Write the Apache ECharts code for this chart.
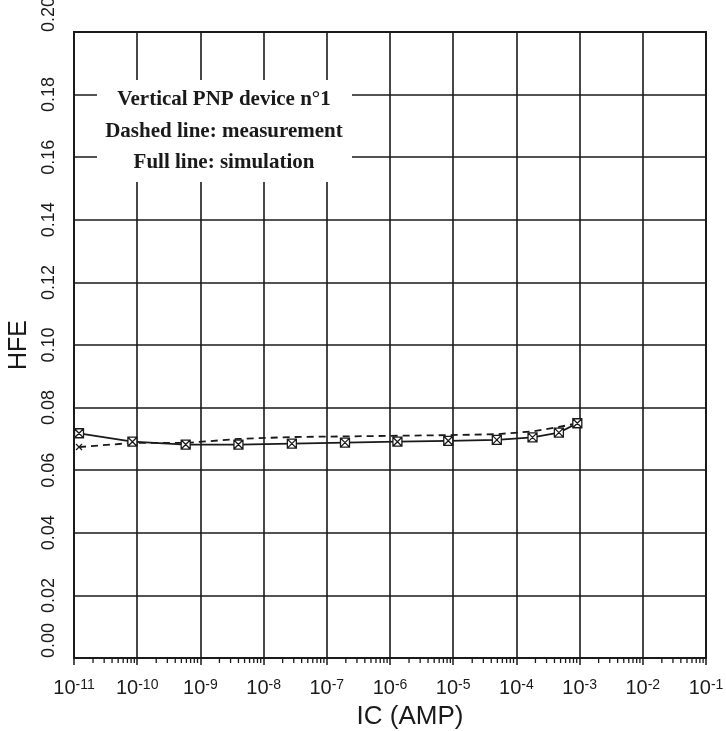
<!DOCTYPE html>
<html>
<head>
<meta charset="utf-8">
<script src="https://cdn.jsdelivr.net/npm/echarts@6/dist/echarts.min.js"></script>
<style>
  html, body { margin: 0; padding: 0; background: #fff; }
  #chart { width: 726px; height: 731px; }
</style>
</head>
<body>
<div id="chart"></div>
<script>
// Collector current (A) at each bias point
const icValues = [1.2e-11, 8.4e-11, 5.85e-10, 4.0e-9, 2.8e-8, 1.94e-7, 1.31e-6, 8.35e-6, 4.9e-5, 1.8e-4, 4.7e-4, 9.2e-4];
// Current gain from simulation (full line)
const hfeSimulation = [0.0718, 0.0691, 0.0682, 0.0682, 0.0685, 0.0688, 0.0691, 0.0694, 0.0697, 0.0705, 0.0720, 0.0750];
// Current gain from measurement (dashed line)
const hfeMeasurement = [0.0674, 0.0687, 0.0687, 0.0700, 0.0706, 0.0708, 0.0710, 0.0712, 0.0715, 0.0724, 0.0738, 0.0750];
// Decades of the log current axis (exponents)
const decadeExponents = [-11, -10, -9, -8, -7, -6, -5, -4, -3, -2, -1];
// Mantissas of the minor log ticks inside each decade
const minorMantissas = [2, 3, 4, 5, 6, 7, 8, 9];
// Legend box lines
const noteLines = ['Vertical PNP device n\u00b01', 'Dashed line: measurement', 'Full line: simulation'];

const minorTickValues = [];
decadeExponents.slice(0, -1).forEach(function (e) {
  minorMantissas.forEach(function (m) { minorTickValues.push([m * Math.pow(10, e), 0]); });
});

const ink = '#1a1a1a';
const sansFont = '"Liberation Sans", Arial, sans-serif';
const noteFont = 'bold 21px "Liberation Serif", serif';

// Square-with-cross marker and plain cross marker
const squareCross = 'path://M0,0 L10,0 L10,10 L0,10 Z M0,0 L10,10 M10,0 L0,10';
const crossMark = 'path://M0,0 L10,10 M10,0 L0,10';

const chart = echarts.init(document.getElementById('chart'), null, { renderer: 'canvas' });

chart.setOption({
  backgroundColor: '#ffffff',
  animation: false,
  grid: {
    left: 74, right: 20, top: 32, bottom: 73,
    containLabel: false,
    outerBoundsMode: 'none',
    show: true, borderColor: ink, borderWidth: 2, backgroundColor: 'transparent'
  },
  xAxis: {
    type: 'log',
    logBase: 10,
    min: 1e-11,
    max: 1e-1,
    interval: 1,
    name: 'IC (AMP)',
    nameLocation: 'middle',
    nameGap: 46,
    nameTextStyle: { fontFamily: sansFont, fontSize: 26, color: ink, padding: [0, 0, 0, 40] },
    axisLine: { show: true, lineStyle: { color: ink, width: 2 } },
    axisTick: { show: true, length: 7, inside: false, lineStyle: { color: ink, width: 1.5 } },
    splitLine: { show: true, lineStyle: { color: ink, width: 1.6 } },
    axisLabel: {
      margin: 20,
      showMinLabel: true,
      showMaxLabel: true,
      interval: 0,
      formatter: function (v) {
        const e = Math.round(Math.log10(v));
        return '{b|10}{s|' + e + '}';
      },
      rich: {
        b: { fontFamily: sansFont, fontSize: 20, color: ink, verticalAlign: 'bottom' },
        s: { fontFamily: sansFont, fontSize: 14, color: ink, verticalAlign: 'top' }
      }
    }
  },
  yAxis: {
    type: 'value',
    min: 0,
    max: 0.2,
    interval: 0.02,
    name: 'HFE',
    nameLocation: 'middle',
    nameGap: 38,
    nameRotate: 90,
    nameTextStyle: { fontFamily: sansFont, fontSize: 25, color: ink },
    axisLine: { show: true, lineStyle: { color: ink, width: 2 } },
    axisTick: { show: false },
    splitLine: { show: true, lineStyle: { color: ink, width: 1.6 } },
    axisLabel: {
      rotate: 90,
      margin: 16,
      fontFamily: sansFont,
      fontSize: 18,
      color: ink,
      alignMinLabel: 'left',
      alignMaxLabel: 'left',
      formatter: function (v) { return v.toFixed(2); }
    }
  },
  graphic: [
    {
      type: 'group',
      left: 97,
      top: 80,
      z: 100,
      children: [
        { type: 'rect', z: 100, shape: { x: 0, y: 0, width: 255, height: 102 }, style: { fill: '#ffffff' } },
        {
          type: 'text', z: 101, x: 127, y: 20,
          style: { text: noteLines[0], textAlign: 'center', textVerticalAlign: 'middle', font: noteFont, fill: ink }
        },
        {
          type: 'text', z: 101, x: 127, y: 52,
          style: { text: noteLines[1], textAlign: 'center', textVerticalAlign: 'middle', font: noteFont, fill: ink }
        },
        {
          type: 'text', z: 101, x: 127, y: 83,
          style: { text: noteLines[2], textAlign: 'center', textVerticalAlign: 'middle', font: noteFont, fill: ink }
        }
      ]
    }
  ],
  series: [
    {
      name: 'measurement',
      type: 'line',
      data: icValues.map(function (x, i) {
        const item = { value: [x, hfeMeasurement[i]] };
        item.symbol = i === 0 ? crossMark : 'none';
        return item;
      }),
      symbolSize: 6,
      showAllSymbol: true,
      lineStyle: { color: ink, width: 1.8, type: [7, 5] },
      itemStyle: { color: 'transparent', borderColor: ink, borderWidth: 1.2 },
      z: 3
    },
    {
      name: 'simulation',
      type: 'line',
      data: icValues.map(function (x, i) { return [x, hfeSimulation[i]]; }),
      symbol: squareCross,
      symbolSize: 9,
      showAllSymbol: true,
      lineStyle: { color: ink, width: 1.8 },
      itemStyle: { color: '#ffffff', borderColor: ink, borderWidth: 1.3 },
      z: 4
    },
    {
      name: 'minor ticks',
      type: 'custom',
      clip: false,
      silent: true,
      data: minorTickValues,
      renderItem: function (params, api) {
        const p = api.coord([api.value(0), 0]);
        return {
          type: 'line',
          shape: { x1: p[0], y1: p[1], x2: p[0], y2: p[1] + 5 },
          style: { stroke: ink, lineWidth: 1.3 }
        };
      },
      z: 5
    }
  ]
});
</script>
</body>
</html>
